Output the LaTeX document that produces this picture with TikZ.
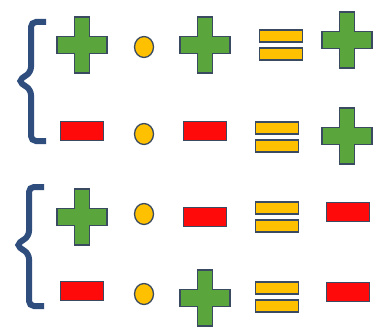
\documentclass[tikz,border=0pt]{standalone}
\usetikzlibrary{shapes.geometric}
\definecolor{pgreen}{HTML}{5AA53C}
\definecolor{pred}{HTML}{FF0A0A}
\definecolor{pyel}{HTML}{FFC000}
\definecolor{outl}{HTML}{3A4A60}
\definecolor{bracec}{HTML}{2F4E7E}
\tikzset{
  shapeline/.style={draw=outl, line width=1.3pt},
  minusbox/.style={shapeline, fill=pred, rectangle, minimum width=43pt, minimum height=19pt, inner sep=0pt},
  eqbar/.style={shapeline, fill=pyel, rectangle, minimum width=43pt, minimum height=12pt, inner sep=0pt},
  dotnode/.style={shapeline, fill=pyel, ellipse, minimum width=19pt, minimum height=21pt, inner sep=0pt},
  bracestyle/.style={draw=bracec, line width=6pt, rounded corners=5pt},
  pics/plusg/.style={code={
    \path[shapeline, fill=pgreen] (-25,-8.5) -- (-7.5,-8.5) -- (-7.5,-28) -- (7.5,-28) -- (7.5,-8.5) -- (25,-8.5)
      -- (25,8.5) -- (7.5,8.5) -- (7.5,28) -- (-7.5,28) -- (-7.5,8.5) -- (-25,8.5) -- cycle;
  }},
  pics/equalsg/.style={code={
    \node[eqbar] (-top) at (0,-9) {};
    \node[eqbar] (-bot) at (0,9) {};
  }}
}
\begin{document}
\begin{tikzpicture}[x=1pt,y=-1pt]
\useasboundingbox[fill=white] (0,0) rectangle (385,329);
% braces
\draw[bracestyle] (46,22) -- (31,22) -- (31,72) -- (18,81) -- (31,90) -- (31,141) -- (46,141);
\draw[bracestyle] (44,187) -- (29,187) -- (29,236) -- (16,245) -- (29,254) -- (29,306) -- (44,306);
% row 1
\pic (p11) at (82,45) {plusg};
\node[dotnode] (d1) at (144,47) {};
\pic (p12) at (205,45) {plusg};
\pic (e1) at (281,45) {equalsg};
\pic (p13) at (347,40) {plusg};
% row 2
\node[minusbox] (m21) at (82,131) {};
\node[dotnode] (d2) at (144,134) {};
\node[minusbox] (m22) at (205,131) {};
\pic (e2) at (277,137) {equalsg};
\pic (p23) at (347,136) {plusg};
% row 3
\pic (p31) at (82,217) {plusg};
\node[dotnode] (d3) at (144,214) {};
\node[minusbox] (m32) at (205,217) {};
\pic (e3) at (277,217) {equalsg};
\node[minusbox] (m33) at (348,212) {};
% row 4
\node[minusbox] (m41) at (82,291) {};
\node[dotnode] (d4) at (144,294) {};
\pic (p42) at (205,298) {plusg};
\pic (e4) at (277,297) {equalsg};
\node[minusbox] (m43) at (348,292) {};
\end{tikzpicture}
\end{document}
